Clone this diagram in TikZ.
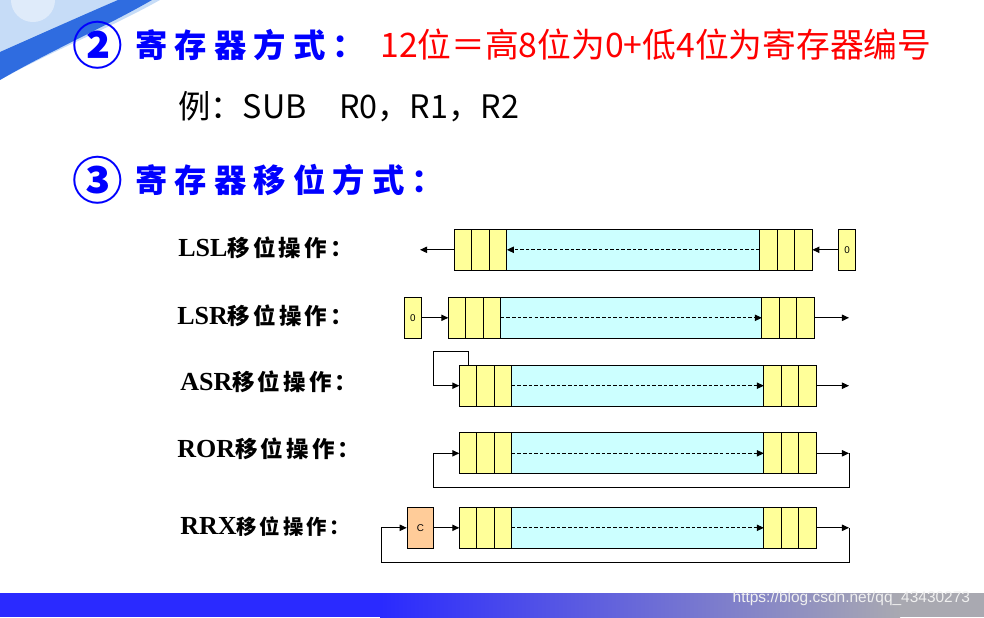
\documentclass[tikz,border=0pt]{standalone}
\usepackage{fontspec}
\setmainfont{Liberation Serif}
\newfontfamily\cjk{Noto Sans CJK SC}
\newfontfamily\cjkwide[LetterSpace=22]{Noto Sans CJK SC}
\newfontfamily\cjklabel[LetterSpace=14]{Noto Sans CJK SC}
\newfontfamily\urlfont{Liberation Sans}
\usetikzlibrary{positioning, arrows.meta}
\definecolor{cellyellow}{HTML}{FFFF99}
\definecolor{regcyan}{HTML}{CCFFFF}
\definecolor{carryorange}{HTML}{FFCC99}
\definecolor{titleblue}{HTML}{0000FF}
\definecolor{barblue}{HTML}{2A2AFF}
\definecolor{bargray}{HTML}{A9A9B1}
\definecolor{swblue}{HTML}{2F6CE0}
\definecolor{swlight}{HTML}{C6DCF7}
\tikzstyle{cell} = [rectangle, draw=black, line width=0.8pt, fill=cellyellow, minimum width=0.4375cm, minimum height=1.025cm, inner sep=0pt, outer sep=0pt]
\tikzstyle{midbox} = [rectangle, draw=black, line width=0.8pt, fill=regcyan, minimum height=1.025cm, inner sep=0pt, outer sep=0pt]
\tikzstyle{bitbox} = [rectangle, draw=black, line width=0.8pt, fill=cellyellow, minimum width=0.43cm, minimum height=1.025cm, inner sep=0pt, font=\urlfont\fontsize{7}{8}\selectfont]
\tikzstyle{carry} = [bitbox, fill=carryorange, minimum width=0.65cm]
\tikzstyle{arrow} = [-{Triangle[length=5pt, width=4.5pt]}, line width=0.7pt]
\tikzstyle{dasharrow} = [arrow, dash pattern=on 2.5pt off 1.5pt]
\tikzstyle{oplabel} = [anchor=west, inner sep=0pt, font=\fontsize{18.5}{20}\selectfont\bfseries]
\tikzstyle{title} = [anchor=west, inner sep=0pt, text=titleblue]

% 一个寄存器: 名称, 左端x, 中线y, 中间宽度
\newcommand{\shiftreg}[4]{%
  \node (#1l1) [cell, anchor=west] at (#2,#3) {};
  \node (#1l2) [cell, right=0pt of #1l1] {};
  \node (#1l3) [cell, right=0pt of #1l2] {};
  \node (#1m) [midbox, minimum width=#4, right=0pt of #1l3] {};
  \node (#1r1) [cell, right=0pt of #1m] {};
  \node (#1r2) [cell, right=0pt of #1r1] {};
  \node (#1r3) [cell, right=0pt of #1r2] {};
}

\begin{document}
\begin{tikzpicture}[x=0.025cm, y=-0.025cm]
    \useasboundingbox (0,0) rectangle (984,617);
    %背景装饰
    \fill[swlight] (0,0) -- (160,0) .. controls (110,28) and (50,52) .. (0,80) -- cycle;
    \fill[white, opacity=0.45] (33,0) circle [radius=0.55cm];
    \fill[swblue] (0,52) .. controls (45,32) and (90,12) .. (118,0) -- (152,0) .. controls (105,27) and (48,52) .. (0,80) -- cycle;
    \fill[barblue] (0,593) rectangle (380,617);
    \shade[left color=barblue, right color=bargray] (380,593) rectangle (900,617);
    \fill[bargray] (900,593) rectangle (984,617);
    \node (watermark) [anchor=east, text=white!88!gray, font=\urlfont\fontsize{11}{12}\selectfont] at (975,598) {https://blog.csdn.net/qq\_43430273};

    %标题文字
    \node (num2) [title, font=\cjk\bfseries\fontsize{36}{38}\selectfont] at (72,45) {②};
    \node (mode2) [title, font=\cjkwide\bfseries\fontsize{23}{26}\selectfont] at (135,45) {寄存器方式：};
    \node (rule2) [title, text=red, font=\cjk\fontsize{24}{26}\selectfont] at (380,45) {12位＝高8位为0+低4位为寄存器编号};
    \node (example) [anchor=west, inner sep=0pt, font=\cjk\fontsize{23}{26}\selectfont] at (178,107) {例：SUB\quad R0，R1，R2};
    \node (num3) [title, font=\cjk\bfseries\fontsize{36}{38}\selectfont] at (72,180) {③};
    \node (mode3) [title, font=\cjkwide\bfseries\fontsize{23}{26}\selectfont] at (135,180) {寄存器移位方式：};

    %各种移位操作名称
    \node (lsllabel) [oplabel] at (178,248) {LSL{\cjklabel\fontsize{16}{18}\selectfont 移位操作：}};
    \node (lsrlabel) [oplabel] at (177,316) {LSR{\cjklabel\fontsize{16}{18}\selectfont 移位操作：}};
    \node (asrlabel) [oplabel] at (180,382) {ASR{\cjklabel\fontsize{16}{18}\selectfont 移位操作：}};
    \node (rorlabel) [oplabel] at (177,449) {ROR{\cjklabel\fontsize{16}{18}\selectfont 移位操作：}};
    \node (rrxlabel) [oplabel] at (180,527) {RRX{\cjklabel\fontsize{14.5}{16}\selectfont 移位操作：}};

    %寄存器
    \shiftreg{lsl}{454.3}{249.8}{6.325cm}
    \shiftreg{lsr}{448.3}{317.8}{6.525cm}
    \shiftreg{asr}{459.3}{385.7}{6.3cm}
    \shiftreg{ror}{459.3}{453.3}{6.3cm}
    \shiftreg{rrx}{459.3}{527.8}{6.3cm}

    %LSL
    \coordinate (lslout) at (420,249.8);
    \node (lslzero) [bitbox] at (847.2,249.8) {0};
    \draw [arrow] (lsll1.west) -- (lslout);
    \draw [arrow] (lslzero) -- (lslr3);
    \draw [dasharrow] (lslm.east) -- (lslm.west);

    %LSR
    \node (lsrzero) [bitbox] at (412.8,317.8) {0};
    \coordinate (lsrout) at (849,317.8);
    \draw [arrow] (lsrzero) -- (lsrl1);
    \draw [arrow] (lsrr3) -- (lsrout);
    \draw [dasharrow] (lsrm.west) -- (lsrm.east);

    %ASR
    \coordinate (asrtop) at (433.3,351.7);
    \coordinate (asrout) at (849,385.7);
    \draw [arrow] (asrl1.north) |- (asrtop) |- (asrl1.west);
    \draw [arrow] (asrr3) -- (asrout);
    \draw [dasharrow] (asrm.west) -- (asrm.east);

    %ROR
    \coordinate (rorout) at (849,453.3);
    \coordinate (rorbot) at (433.3,487);
    \draw [arrow] (rorr3) -- (rorout);
    \draw [arrow] (rorout) |- (rorbot) |- (rorl1.west);
    \draw [dasharrow] (rorm.west) -- (rorm.east);

    %RRX
    \node (rrxc) [carry] at (420.3,527.8) {C};
    \coordinate (rrxout) at (849,527.8);
    \coordinate (rrxbot) at (381.7,562);
    \draw [arrow] (rrxc) -- (rrxl1);
    \draw [arrow] (rrxr3) -- (rrxout);
    \draw [arrow] (rrxout) |- (rrxbot) |- (rrxc.west);
    \draw [dasharrow] (rrxm.west) -- (rrxm.east);
\end{tikzpicture}
\end{document}
